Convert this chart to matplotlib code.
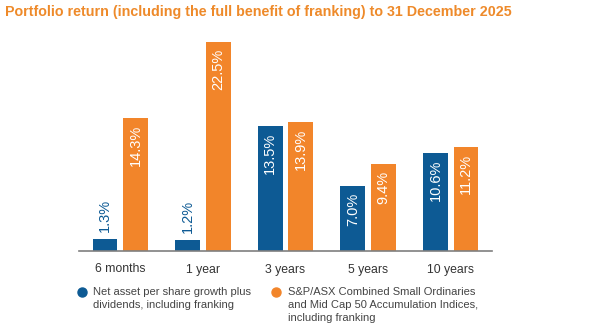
import matplotlib
matplotlib.use("Agg")
import matplotlib.pyplot as plt
from matplotlib.lines import Line2D
import numpy as np

plt.rcParams['font.family'] = ['Liberation Sans', 'DejaVu Sans']

periods = ["6 months", "1 year", "3 years", "5 years", "10 years"]
nav_growth = [1.3, 1.2, 13.5, 7.0, 10.6]
index_return = [14.3, 22.5, 13.9, 9.4, 11.2]

title = "Portfolio return (including the full benefit of franking) to 31 December 2025"
legend_nav = "Net asset per share growth plus\ndividends, including franking"
legend_idx = "S&P/ASX Combined Small Ordinaries\nand Mid Cap 50 Accumulation Indices,\nincluding franking"

blue = "#0d5a94"
orange = "#f2852a"

fig = plt.figure(figsize=(6.02, 3.25), dpi=100)
ax = fig.add_axes([79 / 602, 74 / 325, 413 / 602, 213.7 / 325])

x = np.arange(len(periods))
w = 0.30
off = 0.185
b1 = ax.bar(x - off, nav_growth, w, color=blue)
b2 = ax.bar(x + off, index_return, w, color=orange)

def label(bars, vals, color_out):
    for b, v in zip(bars, vals):
        cx = b.get_x() + b.get_width() / 2
        txt = f"{v:.1f}%"
        if v < 5:
            ax.annotate(txt, (cx, v), xytext=(0, 5), textcoords="offset points",
                        rotation=90, ha="center", va="bottom", color=color_out, fontsize=10.5)
        else:
            ax.annotate(txt, (cx, v), xytext=(0, -5), textcoords="offset points",
                        rotation=90, ha="center", va="top", color="white", fontsize=10.5)

label(b1, nav_growth, blue)
label(b2, index_return, orange)

ax.set_xlim(-0.5, 4.5)
ax.set_ylim(0, 23)
ax.set_xticks(x)
ax.set_xticklabels(periods, fontsize=8.8, color="#333333")
ax.tick_params(axis="x", length=0, pad=9)
ax.set_yticks([])
for s in ["top", "right", "left"]:
    ax.spines[s].set_visible(False)
ax.spines["bottom"].set_color("#7f7f7f")
ax.spines["bottom"].set_linewidth(1.2)

fig.text(5 / 602, 1 - 12 / 325, title, fontsize=10.3, fontweight="bold",
         color="#ee8a2a", ha="left", va="center")

fig.add_artist(Line2D([82 / 602], [1 - 292 / 325], marker="o", markersize=6.5,
                      color=blue, linestyle="none", transform=fig.transFigure))
fig.add_artist(Line2D([276 / 602], [1 - 292 / 325], marker="o", markersize=6.5,
                      color=orange, linestyle="none", transform=fig.transFigure))
fig.text(93 / 602, 1 - 287 / 325, legend_nav, fontsize=8, color="#444444",
         ha="left", va="top", linespacing=1.35)
fig.text(288 / 602, 1 - 287 / 325, legend_idx, fontsize=8, color="#444444",
         ha="left", va="top", linespacing=1.35)

fig.savefig("out.png", dpi=100)
